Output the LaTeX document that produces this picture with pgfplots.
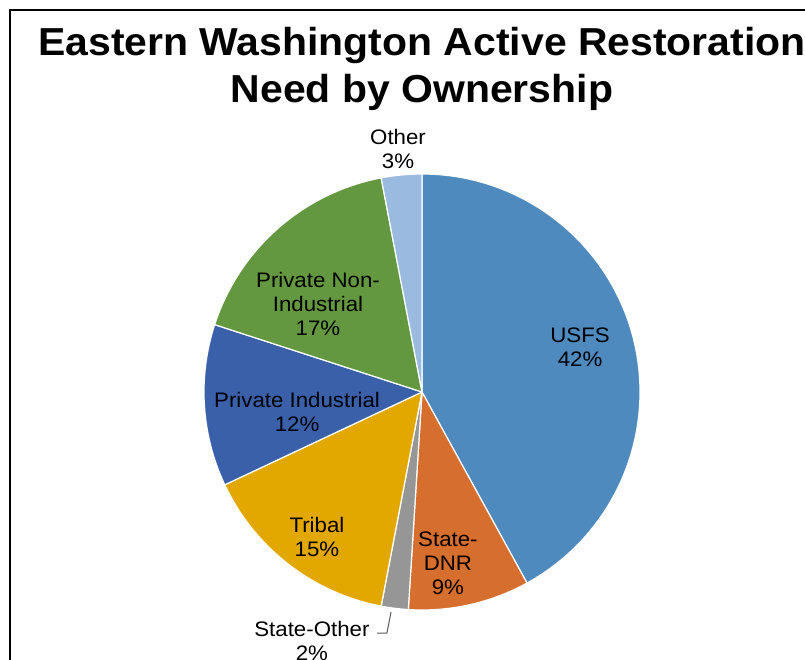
\documentclass[border=0pt]{standalone}
\usepackage{pgfplots}
\pgfplotsset{compat=1.18}
\usepackage{pgfplotstable}
\usepackage{fontspec}
\setmainfont{Liberation Sans}

\definecolor{cusfs}{RGB}{79,138,190}
\definecolor{cdnr}{RGB}{214,110,46}
\definecolor{cstoth}{RGB}{150,150,150}
\definecolor{ctribal}{RGB}{227,168,0}
\definecolor{cpind}{RGB}{59,96,170}
\definecolor{cpnon}{RGB}{99,152,64}
\definecolor{cother}{RGB}{155,186,224}

% share of restoration need, clockwise from 12 o'clock
\pgfplotstableread{
value color
42 cusfs
9  cdnr
2  cstoth
15 ctribal
12 cpind
17 cpnon
3  cother
}\piedata

\begin{document}
\begin{tikzpicture}
\useasboundingbox (0,0) rectangle (402.5pt,330pt);
\clip (0,0) rectangle (402.5pt,330pt);
\draw[line width=1pt] (5pt,-20pt) rectangle (430pt,325pt);

\node[anchor=base,xscale=1.05,font=\bfseries\fontsize{19.5}{23}\selectfont] at (211pt,302pt) {Eastern Washington Active Restoration};
\node[anchor=base,xscale=1.05,font=\bfseries\fontsize{19.5}{23}\selectfont] at (211pt,278.5pt) {Need by Ownership};

\begin{axis}[
  at={(211pt,134pt)}, anchor=center,
  x=109pt, y=109pt,
  xmin=-1.2, xmax=1.2, ymin=-1.2, ymax=1.2,
  hide axis, clip=false,
  scale only axis,
]
\def\cum{0}
\pgfplotsforeachungrouped \i in {0,...,6} {
  \pgfplotstablegetelem{\i}{value}\of\piedata \let\v\pgfplotsretval
  \pgfplotstablegetelem{\i}{color}\of\piedata \let\c\pgfplotsretval
  \pgfmathsetmacro{\a}{90-3.6*\cum}
  \pgfmathsetmacro{\b}{90-3.6*(\cum+\v)}
  \pgfmathsetmacro{\xa}{cos(\a)}
  \pgfmathsetmacro{\ya}{sin(\a)}
  \edef\temp{\noexpand\fill[\c, draw=white, line width=0.6pt, line join=round]
    (axis cs:0,0) -- (axis cs:\xa,\ya) arc[start angle=\a, end angle=\b, radius=109pt] -- cycle;}
  \temp
  \pgfmathsetmacro{\cum}{\cum+\v}
}

\begin{scope}[every node/.style={align=center, xscale=1.06, font=\fontsize{10.5}{12}\selectfont}]
\node at (axis cs:0.725,0.206) {USFS\\42\%};
\node at (axis cs:0.119,-0.784) {State-\\DNR\\9\%};
\node at (axis cs:-0.482,-0.665) {Tribal\\15\%};
\node at (axis cs:-0.505,-1.142) {State-Other\\2\%};
\node at (axis cs:-0.573,-0.092) {Private Industrial\\12\%};
\node at (axis cs:-0.477,0.404) {Private Non-\\Industrial\\17\%};
\node at (axis cs:-0.110,1.115) {Other\\3\%};
\end{scope}
\draw[gray!70!black, line width=0.5pt] (axis cs:-0.142,-1.009) -- (axis cs:-0.161,-1.106) -- (axis cs:-0.206,-1.106);
\end{axis}
\end{tikzpicture}
\end{document}
